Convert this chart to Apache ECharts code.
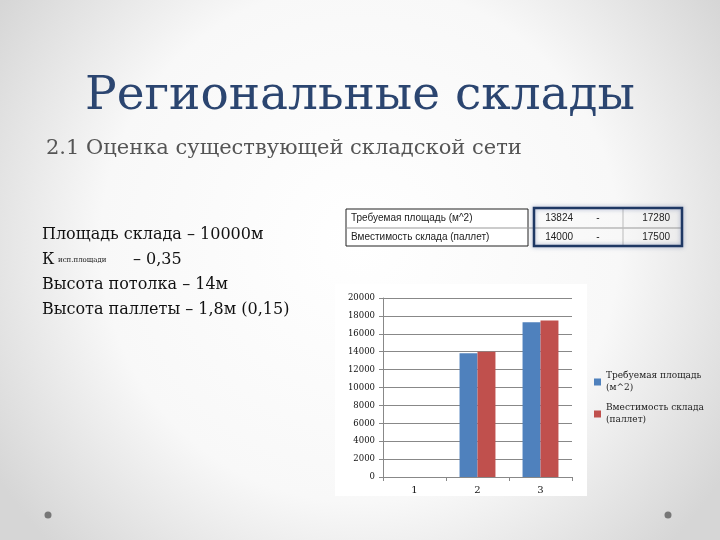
<!DOCTYPE html>
<html>
<head>
<meta charset="utf-8">
<script src="https://cdn.jsdelivr.net/npm/echarts@6/dist/echarts.min.js"></script>
<style>
  html, body { margin: 0; padding: 0; }
  #main { width: 720px; height: 540px; }
</style>
</head>
<body>
<div id="main"></div>
<script>
/* Региональные склады — слайд с диаграммой */
var categories = ['1', '2', '3'];
var seriesNames = ['Требуемая площадь\n(м^2)', 'Вместимость склада\n(паллет)'];
var areaValues = [null, 13824, 17280];
var palletValues = [null, 14000, 17500];
var yTicks = { min: 0, max: 20000, interval: 2000 };

var tableRows = [
    ['Требуемая площадь (м^2)', '13824', '-', '17280'],
    ['Вместимость склада (паллет)', '14000', '-', '17500']
];
var bodyLines = ['Площадь склада – 10000м', 'К', 'Высота потолка – 14м', 'Высота паллеты – 1,8м (0,15)'];

var serif = '"DejaVu Serif", "Liberation Serif", serif';
var sans = '"Liberation Sans", Arial, sans-serif';

var graphics = [];
// белая подложка под диаграмму
graphics.push({
    type: 'rect', z: -10, silent: true,
    shape: { x: 335, y: 284, width: 252, height: 212 },
    style: { fill: '#ffffff' }
});
// текст слева
var ys = [237, 262, 287, 312];
bodyLines.forEach(function (t, i) {
    graphics.push({
        type: 'text', left: 42, top: ys[i] - 10,
        style: { text: t, font: '16px ' + serif, fill: '#111' }
    });
});
graphics.push({
    type: 'text', left: 58, top: 257,
    style: { text: 'исп.площади', font: '7px ' + serif, fill: '#111' }
});
graphics.push({
    type: 'text', left: 133, top: 252,
    style: { text: '– 0,35', font: '16px ' + serif, fill: '#111' }
});
// таблица
var rowY = [209, 228];
graphics.push({
    type: 'rect', shape: { x: 346, y: 209, width: 182, height: 37 },
    style: { fill: '#fff', stroke: '#222', lineWidth: 1 }
});
graphics.push({
    type: 'line', shape: { x1: 346, y1: 228, x2: 682, y2: 228 },
    style: { stroke: '#999', lineWidth: 1 }
});
graphics.push({
    type: 'line', shape: { x1: 623, y1: 209, x2: 623, y2: 246 },
    style: { stroke: '#bbb', lineWidth: 1 }
});
graphics.push({
    type: 'rect', shape: { x: 534, y: 208, width: 148, height: 38 },
    style: { fill: 'none', stroke: '#1f3864', lineWidth: 2.5, shadowBlur: 4, shadowColor: 'rgba(80,100,160,0.5)' }
});
tableRows.forEach(function (r, i) {
    var cy = rowY[i] + 9;
    graphics.push({ type: 'text', x: 351, y: cy, style: { text: r[0], font: '10px ' + sans, fill: '#222', verticalAlign: 'middle' } });
    graphics.push({ type: 'text', x: 573, y: cy, style: { text: r[1], font: '10px ' + sans, fill: '#222', align: 'right', verticalAlign: 'middle' } });
    graphics.push({ type: 'text', x: 598, y: cy, style: { text: r[2], font: '10px ' + sans, fill: '#222', align: 'center', verticalAlign: 'middle' } });
    graphics.push({ type: 'text', x: 670, y: cy, style: { text: r[3], font: '10px ' + sans, fill: '#222', align: 'right', verticalAlign: 'middle' } });
});
// точки внизу
[[48, 515], [668, 515]].forEach(function (p) {
    graphics.push({ type: 'circle', shape: { cx: p[0], cy: p[1], r: 3.5 }, style: { fill: '#777' } });
});

var option = {
    backgroundColor: {
        type: 'radial', x: 0.5, y: 0.45, r: 0.8,
        colorStops: [
            { offset: 0, color: '#ffffff' },
            { offset: 0.6, color: '#f8f8f8' },
            { offset: 1, color: '#d6d6d6' }
        ]
    },
    animation: false,
    title: [{
        text: 'Региональные склады',
        left: 'center', top: 68,
        textStyle: { fontFamily: serif, fontSize: 47, fontWeight: 'normal', color: '#2b4570' }
    }, {
        text: '2.1 Оценка существующей складской сети',
        left: 41, top: 133,
        textStyle: { fontFamily: serif, fontSize: 21, fontWeight: 'normal', color: '#555' }
    }],
    color: ['#4f81bd', '#c0504d'],
    legend: {
        orient: 'vertical', left: 589, top: 365,
        itemWidth: 7, itemHeight: 7, itemGap: 8,
        icon: 'rect',
        textStyle: { fontFamily: serif, fontSize: 9, color: '#222', lineHeight: 12 },
        data: seriesNames
    },
    grid: { left: 383, right: 148, top: 298, bottom: 63 },
    xAxis: {
        type: 'category', data: categories,
        axisLine: { lineStyle: { color: '#888' } },
        axisTick: { show: true, alignWithLabel: false, length: 4, lineStyle: { color: '#888' } },
        axisLabel: { fontFamily: serif, fontSize: 10, color: '#111', margin: 8 }
    },
    yAxis: {
        type: 'value', min: yTicks.min, max: yTicks.max, interval: yTicks.interval,
        axisLine: { show: true, lineStyle: { color: '#888' } },
        axisTick: { show: true, length: 4, lineStyle: { color: '#888' } },
        splitLine: { lineStyle: { color: '#888', width: 1 } },
        axisLabel: {
            fontFamily: serif, fontSize: 8.5, color: '#111', margin: 8,
            formatter: function (v) { return String(v); }
        }
    },
    series: [{
        name: seriesNames[0], type: 'bar', data: areaValues,
        barGap: '0%', barCategoryGap: '43%'
    }, {
        name: seriesNames[1], type: 'bar', data: palletValues,
        barGap: '0%', barCategoryGap: '43%'
    }],
    graphic: graphics
};

var myChart = echarts.init(document.getElementById('main'));
myChart.setOption(option);
</script>
</body>
</html>
